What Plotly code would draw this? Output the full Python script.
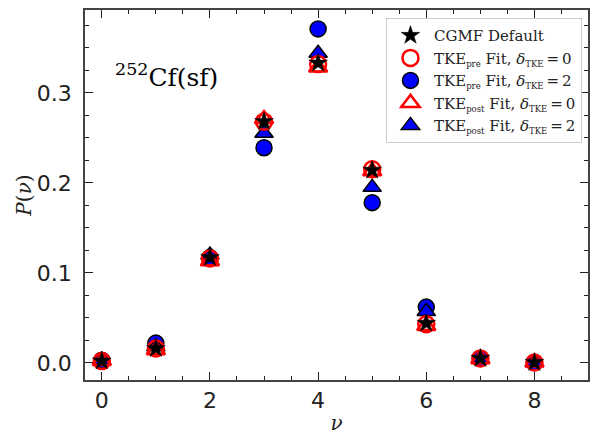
import plotly.graph_objects as go

nu = [0, 1, 2, 3, 4, 5, 6, 7, 8]
cgmf = [0.002, 0.016, 0.117, 0.268, 0.333, 0.214, 0.044, 0.005, 0.0005]
pre0 = [0.002, 0.016, 0.116, 0.268, 0.332, 0.215, 0.043, 0.005, 0.0005]
pre2 = [0.003, 0.022, 0.117, 0.239, 0.371, 0.178, 0.062, 0.005, 0.0005]
post0 = [0.002, 0.014, 0.113, 0.271, 0.328, 0.213, 0.041, 0.004, 0.0005]
post2 = [0.003, 0.018, 0.120, 0.255, 0.344, 0.195, 0.057, 0.005, 0.0005]

def sub(t):
    return "<sub><span style='font-size:8.5px'>" + t + "</span></sub>"

names = [
    "CGMF Default",
    "TKE" + sub("pre") + " Fit, <i>δ</i>" + sub("TKE") + "\u2009=\u20090",
    "TKE" + sub("pre") + " Fit, <i>δ</i>" + sub("TKE") + "\u2009=\u20092",
    "TKE" + sub("post") + " Fit, <i>δ</i>" + sub("TKE") + "\u2009=\u20090",
    "TKE" + sub("post") + " Fit, <i>δ</i>" + sub("TKE") + "\u2009=\u20092",
]

fig = go.Figure()
# draw order: filled blue first, then open red, then stars on top
fig.add_trace(go.Scatter(x=nu, y=pre2, mode="markers", name=names[2], legendrank=3,
    marker=dict(symbol="circle", size=16, color="#0000ff", line=dict(color="black", width=1.5))))
fig.add_trace(go.Scatter(x=nu, y=post2, mode="markers", name=names[4], legendrank=5,
    marker=dict(symbol="triangle-up", size=16, color="#0000ff", line=dict(color="black", width=1.5))))
fig.add_trace(go.Scatter(x=nu, y=pre0, mode="markers", name=names[1], legendrank=2,
    marker=dict(symbol="circle-open", size=16, color="#ff0000", line=dict(color="#ff0000", width=2.5))))
fig.add_trace(go.Scatter(x=nu, y=post0, mode="markers", name=names[3], legendrank=4,
    marker=dict(symbol="triangle-up-open", size=16, color="#ff0000", line=dict(color="#ff0000", width=2.5))))
fig.add_trace(go.Scatter(x=nu, y=cgmf, mode="markers", name=names[0], legendrank=1,
    marker=dict(symbol="star", size=14, color="black", line=dict(color="black", width=0.5))))

axis_common = dict(
    showgrid=False, zeroline=False, showline=True, linecolor="#444", linewidth=1.5,
    mirror="ticks", ticks="inside", ticklen=8, tickwidth=1.2, tickcolor="#222",
    tickfont=dict(family="DejaVu Sans", size=22, color="#222"),
)
fig.update_xaxes(range=[-0.31, 8.99], dtick=2, tick0=0,
    minor=dict(ticks="inside", ticklen=4, dtick=0.5, tickcolor="#222", tickwidth=1),
    title=dict(text="<i>ν</i>", font=dict(family="DejaVu Serif", size=20, color="#222"), standoff=4),
    **axis_common)
fig.update_yaxes(range=[-0.019, 0.392], dtick=0.1, tick0=0, tickformat=".1f",
    ticklabelstandoff=7,
    minor=dict(ticks="inside", ticklen=4, dtick=0.025, tickcolor="#222", tickwidth=1),
    title=dict(text="<i>P</i>(<i>ν</i>)", font=dict(family="DejaVu Serif", size=20, color="#222"), standoff=0),
    **axis_common)

fig.add_annotation(x=0.055, y=0.824, xref="paper", yref="paper", showarrow=False,
    text="<sup>252</sup>Cf(sf)", font=dict(family="DejaVu Serif", size=25, color="black"),
    xanchor="left", yanchor="middle")

fig.update_layout(
    width=592, height=436,
    margin=dict(l=85, r=2, t=10, b=56),
    plot_bgcolor="white", paper_bgcolor="white",
    legend=dict(x=0.988, y=0.978, xanchor="right", yanchor="top",
        bgcolor="rgba(255,255,255,0.9)", bordercolor="#ccc", borderwidth=1,
        font=dict(family="DejaVu Serif", size=15, color="#222"),
        tracegroupgap=0, itemwidth=37),
    showlegend=True,
)

fig.write_html("out.html", config={"displayModeBar": False},
               post_script="document.body.style.margin='0';")
